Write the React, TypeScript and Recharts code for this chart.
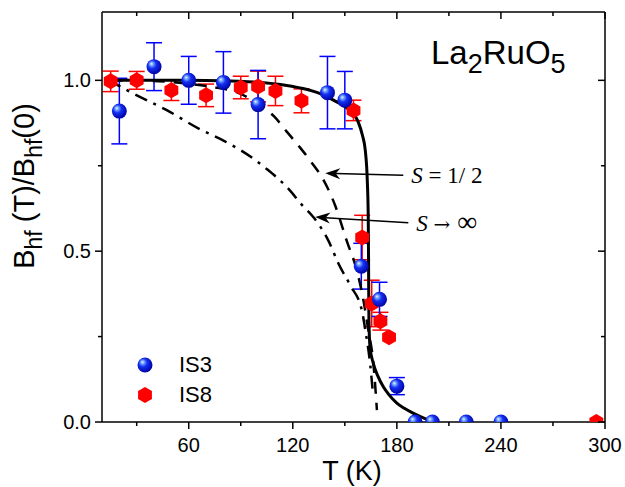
import {
  ComposedChart,
  Scatter,
  Line,
  XAxis,
  YAxis,
  ErrorBar,
  ReferenceLine,
  Legend,
} from "recharts";

// IS3 (blue spheres)
const is3T = [20, 40, 60, 80, 100, 140, 150, 159.5, 170, 180, 190.5, 200.5, 220, 240];
const is3Y = [0.91, 1.04, 1.0, 0.994, 0.929, 0.964, 0.942, 0.456, 0.359, 0.105, 0, 0, 0, 0];
const is3Err = [0.096, 0.07, 0.07, 0.09, 0.1, 0.106, 0.084, 0.067, 0.05, 0.025, 0, 0, 0, 0];

// IS8 (red hexagons)
const is8T = [15, 30, 50, 70, 90, 100, 110, 125, 155, 160, 165.5, 170.5, 175.5, 295];
const is8Y = [0.997, 1.0, 0.971, 0.956, 0.979, 0.982, 0.969, 0.94, 0.912, 0.54, 0.347, 0.295, 0.248, 0];
const is8Err = [0.03, 0.026, 0.03, 0.033, 0.033, 0.045, 0.043, 0.035, 0.03, 0.065, 0.068, 0.026, 0, 0];

// fit (solid)
const fitT = [15, 39.7, 59.5, 79.4, 97.2, 116.5, 125.9, 135.8, 145.3, 153, 157.6, 160.1, 161.8, 163, 163.5, 163.7, 163.9, 164.5, 166.5, 169, 172.2, 175.4, 180, 184.3, 189.6, 196.3, 203.2];
const fitY = [1.0, 1.0, 1.0, 0.999, 0.995, 0.985, 0.976, 0.961, 0.937, 0.912, 0.88, 0.84, 0.795, 0.7, 0.6, 0.45, 0.3, 0.22, 0.17, 0.135, 0.103, 0.08, 0.055, 0.04, 0.025, 0.01, 0];

// S = 1/2 (dashed)
const halfT = [15, 39.7, 59.5, 74.4, 89.3, 100.2, 109.1, 116.5, 123.9, 129.9, 137.5, 144.7, 151.1, 156.9, 160.7, 163.5, 166.5, 168.5];
const halfY = [1.0, 0.998, 0.99, 0.98, 0.962, 0.93, 0.895, 0.85, 0.805, 0.766, 0.71, 0.63, 0.53, 0.444, 0.357, 0.27, 0.17, 0.035];

// S -> infinity (dash-dot)
const infT = [14, 27.8, 47.6, 66.4, 80.3, 97.2, 105.1, 116.5, 125.9, 131.8, 140.6, 146.3, 153.1, 159.8, 162.1, 164.6, 166.1];
const infY = [1.0, 0.962, 0.912, 0.857, 0.823, 0.771, 0.74, 0.688, 0.632, 0.6, 0.53, 0.464, 0.4, 0.327, 0.26, 0.17, 0.09];

const xTicks = [30, 60, 90, 120, 150, 180, 210, 240, 270, 300];
const yTicks = [0, 0.25, 0.5, 0.75, 1.0];

const is3 = is3T.map((T, i) => ({ T, y: is3Y[i], err: is3Err[i] }));
const is8 = is8T.map((T, i) => ({ T, y: is8Y[i], err: is8Err[i] }));
const fit = fitT.map((T, i) => ({ T, y: fitY[i] }));
const half = halfT.map((T, i) => ({ T, y: halfY[i] }));
const inf = infT.map((T, i) => ({ T, y: infY[i] }));

const SANS = "'Liberation Sans', Arial, sans-serif";
const SERIF = "'Liberation Serif', 'Times New Roman', serif";

const isMajorX = (v: number) => v % 60 === 0;
const isMajorY = (v: number) => Math.abs(v * 2 - Math.round(v * 2)) < 1e-6;

const BottomTick = ({ x, y, payload }: any) => {
  const major = isMajorX(payload.value);
  return (
    <g>
      <line x1={x} x2={x} y1={y} y2={y + (major ? 7 : 4)} stroke="#000" strokeWidth={1.5} />
      {major && (
        <text x={x} y={y + 30} textAnchor="middle" fontSize={20} fontFamily={SANS} fill="#000">
          {payload.value}
        </text>
      )}
    </g>
  );
};

const TopTick = ({ x, y, payload }: any) => {
  const major = isMajorX(payload.value);
  return <line x1={x} x2={x} y1={y} y2={y + (major ? 7 : 4)} stroke="#000" strokeWidth={1.5} />;
};

const LeftTick = ({ x, y, payload }: any) => {
  const major = isMajorY(payload.value);
  return (
    <g>
      <line x1={x} x2={x - (major ? 7 : 4)} y1={y} y2={y} stroke="#000" strokeWidth={1.5} />
      {major && (
        <text x={x - 11} y={y + 7} textAnchor="end" fontSize={20} fontFamily={SANS} fill="#000">
          {payload.value.toFixed(1)}
        </text>
      )}
    </g>
  );
};

const RightTick = ({ x, y, payload }: any) => {
  const major = isMajorY(payload.value);
  return <line x1={x} x2={x - (major ? 7 : 4)} y1={y} y2={y} stroke="#000" strokeWidth={1.5} />;
};

const Sphere = ({ cx, cy, r = 7.5 }: any) => (
  <g>
    <defs>
      <radialGradient id="ballGrad" cx="42%" cy="40%" r="62%" fx="32%" fy="30%">
        <stop offset="0%" stopColor="#e6f6ff" />
        <stop offset="18%" stopColor="#7aa8ff" />
        <stop offset="45%" stopColor="#1430f2" />
        <stop offset="100%" stopColor="#0000a0" />
      </radialGradient>
    </defs>
    <circle cx={cx} cy={cy} r={r} fill="url(#ballGrad)" />
  </g>
);

const Hexagon = ({ cx, cy, r = 8 }: any) => {
  const w = r * 0.866;
  const pts = [
    [cx, cy - r],
    [cx + w, cy - r / 2],
    [cx + w, cy + r / 2],
    [cx, cy + r],
    [cx - w, cy + r / 2],
    [cx - w, cy - r / 2],
  ]
    .map((p) => p.join(","))
    .join(" ");
  return <polygon points={pts} fill="#ff0000" />;
};

const makeArrow = (label: "half" | "inf") => (props: any) => {
  const { x1, y1, x2, y2 } = props;
  const ang = Math.atan2(y2 - y1, x2 - x1);
  const L = 15;
  const W = 5.5;
  const bx = x2 - L * Math.cos(ang);
  const by = y2 - L * Math.sin(ang);
  const nx = -Math.sin(ang);
  const ny = Math.cos(ang);
  const notchX = x2 - L * 0.7 * Math.cos(ang);
  const notchY = y2 - L * 0.7 * Math.sin(ang);
  const head = `M${x2},${y2} L${bx + nx * W},${by + ny * W} L${notchX},${notchY} L${bx - nx * W},${by - ny * W} Z`;
  return (
    <g>
      <line x1={x1} y1={y1} x2={notchX} y2={notchY} stroke="#000" strokeWidth={1.5} />
      <path d={head} fill="#000" />
      <text x={x1 + 8} y={y1 + 8} fontSize={23} fontFamily={SERIF} fill="#000">
        <tspan fontStyle="italic">S</tspan>
        {label === "half" ? " = 1/ 2" : " "}
        {label === "inf" && <tspan fontFamily="'DejaVu Serif', serif" fontSize={20}>{"\u2192"}</tspan>}
        {label === "inf" && <tspan fontSize={28}>{" \u221E"}</tspan>}
      </text>
    </g>
  );
};

const YLabel = () => (
  <text
    x={34}
    y={186}
    transform="rotate(-90, 34, 186)"
    textAnchor="middle"
    fontSize={29}
    fontFamily={SANS}
    fill="#000"
  >
    B
    <tspan fontSize={23} dy={8}>hf</tspan>
    <tspan dy={-8}> (T)/B</tspan>
    <tspan fontSize={23} dy={8}>hf</tspan>
    <tspan dy={-8}>(0)</tspan>
  </text>
);

const XLabel = () => (
  <text x={352} y={480} textAnchor="middle" fontSize={27} fontFamily={SANS} fill="#000">
    T (K)
  </text>
);

const Title = () => (
  <text x={431} y={64} fontSize={33} fontFamily={SANS} fill="#000">
    La
    <tspan fontSize={27} dy={9}>2</tspan>
    <tspan dy={-9}>RuO</tspan>
    <tspan fontSize={27} dy={9}>5</tspan>
  </text>
);

const LegendBox = () => (
  <div style={{ fontFamily: SANS, fontSize: 22, lineHeight: "30px", color: "#000" }}>
    {[
      { name: "IS3", Icon: Sphere },
      { name: "IS8", Icon: Hexagon },
    ].map(({ name, Icon }) => (
      <div key={name} style={{ display: "flex", alignItems: "center", height: 30 }}>
        <svg width={30} height={30} style={{ display: "block" }}>
          <Icon cx={15} cy={15} />
        </svg>
        <span style={{ marginLeft: 19 }}>{name}</span>
      </div>
    ))}
  </div>
);

export default function App() {
  return (
    <div style={{ position: "absolute", left: 0, top: 0, background: "#fff" }}>
      <ComposedChart width={625} height={487} margin={{ top: 0, right: 0, bottom: 0, left: 0 }}>
        <XAxis
          xAxisId="bottom"
          dataKey="T"
          type="number"
          domain={[10, 300]}
          ticks={xTicks}
          height={65}
          tickSize={0}
          tickMargin={0}
          tick={<BottomTick />}
          axisLine={{ stroke: "#000", strokeWidth: 1.5 }}
          allowDataOverflow
          label={<XLabel />}
        />
        <XAxis
          xAxisId="top"
          orientation="top"
          dataKey="T"
          type="number"
          domain={[10, 300]}
          ticks={xTicks}
          height={12}
          tickSize={0}
          tickMargin={0}
          tick={<TopTick />}
          axisLine={{ stroke: "#000", strokeWidth: 1.5 }}
          allowDataOverflow
          label={<Title />}
        />
        <YAxis
          yAxisId="left"
          dataKey="y"
          type="number"
          domain={[0, 1.2]}
          ticks={yTicks}
          width={102}
          tickSize={0}
          tickMargin={0}
          tick={<LeftTick />}
          axisLine={{ stroke: "#000", strokeWidth: 1.5 }}
          allowDataOverflow
          label={<YLabel />}
        />
        <YAxis
          yAxisId="right"
          orientation="right"
          dataKey="y"
          type="number"
          domain={[0, 1.2]}
          ticks={yTicks}
          width={20}
          tickSize={0}
          tickMargin={0}
          tick={<RightTick />}
          axisLine={{ stroke: "#000", strokeWidth: 1.5 }}
          allowDataOverflow
        />
        <Legend
          layout="vertical"
          align="center"
          verticalAlign="middle"
          wrapperStyle={{ left: 130, top: 350, width: 100 }}
          content={<LegendBox />}
        />
        <Scatter
          name="IS8"
          data={is8}
          xAxisId="bottom"
          yAxisId="left"
          shape={<Hexagon />}
          isAnimationActive={false}
        >
          <ErrorBar dataKey="err" direction="y" width={8} stroke="#ff0000" strokeWidth={1.5} />
        </Scatter>
        <Scatter
          name="IS3"
          data={is3}
          xAxisId="bottom"
          yAxisId="left"
          shape={<Sphere />}
          isAnimationActive={false}
        >
          <ErrorBar dataKey="err" direction="y" width={8} stroke="#0000ff" strokeWidth={1.5} />
        </Scatter>
        <Line
          data={inf}
          dataKey="y"
          xAxisId="bottom"
          yAxisId="left"
          type="monotone"
          stroke="#000"
          strokeWidth={2.5}
          strokeDasharray="13 7 3 7"
          dot={false}
          activeDot={false}
          isAnimationActive={false}
        />
        <Line
          data={half}
          dataKey="y"
          xAxisId="bottom"
          yAxisId="left"
          type="monotone"
          stroke="#000"
          strokeWidth={2.5}
          strokeDasharray="12 9"
          dot={false}
          activeDot={false}
          isAnimationActive={false}
        />
        <Line
          data={fit}
          dataKey="y"
          xAxisId="bottom"
          yAxisId="left"
          type="monotone"
          stroke="#000"
          strokeWidth={3}
          dot={false}
          activeDot={false}
          isAnimationActive={false}
        />
        <ReferenceLine
          xAxisId="bottom"
          yAxisId="left"
          segment={[
            { x: 183.7, y: 0.722 },
            { x: 138.7, y: 0.728 },
          ]}
          shape={makeArrow("half")}
        />
        <ReferenceLine
          xAxisId="bottom"
          yAxisId="left"
          segment={[
            { x: 186.6, y: 0.583 },
            { x: 132.9, y: 0.6 },
          ]}
          shape={makeArrow("inf")}
        />
      </ComposedChart>
    </div>
  );
}
